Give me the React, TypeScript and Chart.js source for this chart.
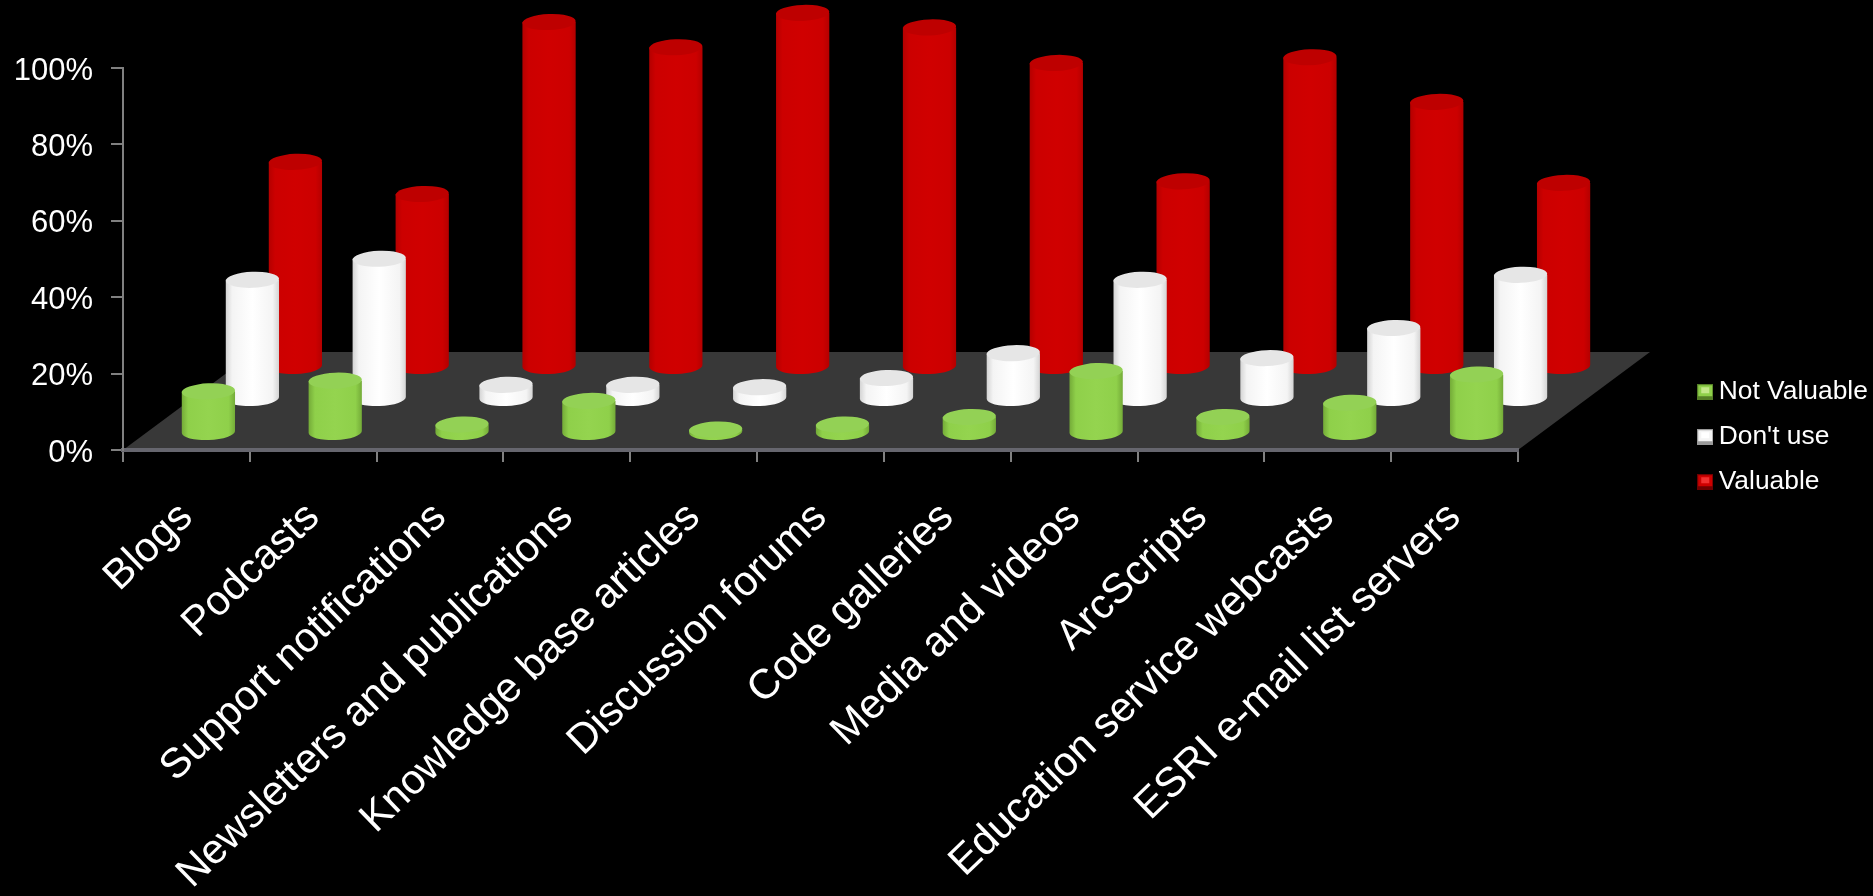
import React, { useEffect, useRef } from "react";
import { Chart, registerables } from "chart.js";

Chart.register(...registerables);

const categories = [
  "Blogs",
  "Podcasts",
  "Support notifications",
  "Newsletters and publications",
  "Knowledge base articles",
  "Discussion forums",
  "Code galleries",
  "Media and videos",
  "ArcScripts",
  "Education service webcasts",
  "ESRI e-mail list servers",
];
const notValuable = [10.9, 13.7, 2.2, 8.4, 0.9, 2.2, 4.2, 16.2, 4.2, 7.9, 15.3];
const dontUse = [31.2, 36.7, 3.7, 3.7, 3.1, 5.5, 12, 31.2, 10.7, 18.6, 32.5];
const valuable = [53.7, 45.3, 90.3, 83.7, 92.7, 88.9, 79.6, 48.6, 81.1, 69.4, 48.2];

const FONT = "'Liberation Sans', Arial, sans-serif";
const W = 1873;
const H = 896;

// Depth styling of the pseudo-3D look: [sideways shift, upward shift] of each row from the axis.
const rowShift = [
  { dx: 22, dy: -17 },
  { dx: 66, dy: -51 },
  { dx: 109, dy: -83 },
];
const floorDepth = { dx: 132, dy: -98 };
const ELLIPSE_RY = 8;

const looks = [
  { base: "#8FD04A", edge: "#74AB38", mid: "#94D44F", cap: "#93D155", bright: "#C4E88A", dark: "#557F26" },
  { base: "#F4F4F4", edge: "#D4D4D4", mid: "#FFFFFF", cap: "#E6E6E6", bright: "#FFFFFF", dark: "#9A9A9A" },
  { base: "#CC0000", edge: "#B40000", mid: "#D00000", cap: "#BE0000", bright: "#F03030", dark: "#6E0000" },
];

function marker(i: number) {
  const c = document.createElement("canvas");
  c.width = 16;
  c.height = 16;
  const g = c.getContext("2d")!;
  const l = looks[i];
  g.fillStyle = l.dark;
  g.fillRect(0, 0, 16, 16);
  g.fillStyle = l.base;
  g.fillRect(1, 1, 14, 11);
  g.fillStyle = l.bright;
  g.fillRect(4, 3, 8, 6);
  return c;
}

const cylinderPlugin = {
  id: "cylinders",
  beforeDraw(chart: any) {
    const { ctx, chartArea: a } = chart;
    ctx.save();
    ctx.fillStyle = "#383838";
    ctx.beginPath();
    ctx.moveTo(a.left, a.bottom);
    ctx.lineTo(a.right, a.bottom);
    ctx.lineTo(a.right + floorDepth.dx, a.bottom + floorDepth.dy);
    ctx.lineTo(a.left + floorDepth.dx, a.bottom + floorDepth.dy);
    ctx.closePath();
    ctx.fill();
    ctx.restore();
  },
  beforeDatasetDraw(chart: any, args: any) {
    const { ctx } = chart;
    const i = args.index;
    const l = looks[i];
    const s = rowShift[i];
    ctx.save();
    for (const el of args.meta.data) {
      const cx = el.x + s.dx;
      const rx = el.width / 2;
      const top = el.y + s.dy;
      const bottom = el.base + s.dy;
      const tilt = -0.04;
      const g = ctx.createLinearGradient(cx - rx, 0, cx + rx, 0);
      g.addColorStop(0, l.edge);
      g.addColorStop(0.12, l.base);
      g.addColorStop(0.5, l.mid);
      g.addColorStop(0.88, l.base);
      g.addColorStop(1, l.edge);
      ctx.fillStyle = g;
      ctx.beginPath();
      ctx.ellipse(cx, bottom, rx, ELLIPSE_RY, tilt, 0, Math.PI);
      ctx.lineTo(cx - rx, top);
      ctx.lineTo(cx + rx, top);
      ctx.closePath();
      ctx.fill();
      ctx.fillStyle = l.cap;
      ctx.beginPath();
      ctx.ellipse(cx, top, rx, ELLIPSE_RY, tilt, 0, Math.PI * 2);
      ctx.fill();
    }
    ctx.restore();
    return false;
  },
  afterLayout(chart: any) {
    const lg = chart.legend;
    if (!lg) return;
    const pad = lg.options.labels.padding;
    lg.left = 1705 - pad;
    lg.right = lg.left + lg.width;
    lg.top = 379 - pad;
    lg.bottom = lg.top + lg.height;
    lg.adjustHitBoxes();
  },
};

export default function App() {
  const ref = useRef<HTMLCanvasElement>(null);
  useEffect(() => {
    document.body.style.margin = "0";
    document.body.style.background = "#000";
    const mk = (label: string, data: number[], i: number) => ({
      label,
      data,
      backgroundColor: looks[i].base,
      borderWidth: 0,
      grouped: false,
      categoryPercentage: 1,
      barPercentage: 0.42,
    });
    const chart = new Chart(ref.current!, {
      type: "bar",
      data: {
        labels: categories,
        datasets: [mk("Not Valuable", notValuable, 0), mk("Don't use", dontUse, 1), mk("Valuable", valuable, 2)],
      },
      plugins: [cylinderPlugin],
      options: {
        animation: false,
        responsive: false,
        events: [],
        layout: { padding: { left: 0, top: 68, right: W - 1518, bottom: 0 } },
        plugins: {
          tooltip: { enabled: false },
          legend: {
            position: "chartArea",
            align: "start",
            labels: {
              color: "#fff",
              font: { family: FONT, size: 26.4 },
              padding: 18.6,
              usePointStyle: true,
              boxWidth: 0.5,
              generateLabels(c: any) {
                const items = Chart.defaults.plugins.legend.labels.generateLabels(c);
                items.forEach((it: any, i: number) => {
                  it.pointStyle = marker(i);
                });
                return items;
              },
            },
          },
        },
        scales: {
          x: {
            type: "category",
            offset: true,
            afterFit(s: any) {
              s.height = H - 450;
            },
            grid: { offset: true, drawOnChartArea: false, color: "#808080", lineWidth: 2, tickLength: 12 },
            border: { color: "#66666E", width: 4 },
            ticks: {
              color: "#fff",
              font: { family: FONT, size: 41.8 },
              maxRotation: 44,
              minRotation: 44,
              autoSkip: false,
              padding: 31,
            },
          },
          y: {
            min: 0,
            max: 100,
            afterFit(s: any) {
              s.width = 123;
            },
            grid: { drawOnChartArea: false, color: "#808080", lineWidth: 2, tickLength: 12 },
            border: { color: "#808080", width: 2 },
            ticks: {
              stepSize: 20,
              color: "#fff",
              font: { family: FONT, size: 31 },
              padding: 18,
              labelOffset: 3,
              callback: (v: any) => `${v}%`,
            },
          },
        },
      },
    } as any);
    return () => chart.destroy();
  }, []);
  return (
    <div style={{ position: "fixed", left: 0, top: 0, width: W, height: H, background: "#000" }}>
      <canvas ref={ref} width={W} height={H} style={{ display: "block" }} />
    </div>
  );
}
